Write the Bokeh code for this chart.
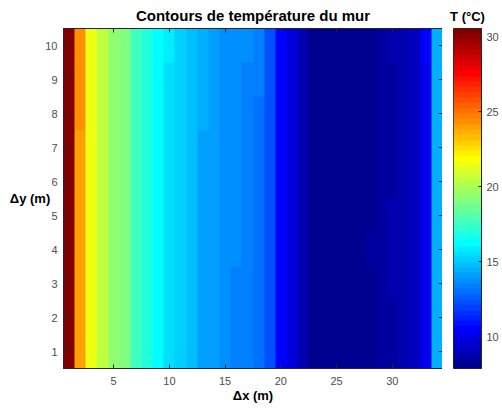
import numpy as np
from bokeh.plotting import figure
from bokeh.models import Range1d, LinearColorMapper, FixedTicker, LinearAxis
from bokeh.models import Axis
from bokeh.layouts import row
from bokeh.embed import file_html
from bokeh.resources import INLINE

# Grid cell centres (m)
x_cells = list(range(1, 35))
y_cells = list(range(1, 11))

# Wall temperature (°C), one list per row of cells, bottom (Δy = 1) to top (Δy = 10)
T_y1 = [30.56, 24.01, 21.52, 20.46, 19.40, 19.04, 17.63, 16.92, 16.21, 15.50, 15.15, 14.79, 14.08, 14.08, 13.73, 13.37, 13.37,
        13.02, 12.31, 10.54, 9.83, 8.77, 8.06, 8.00, 7.90, 7.92, 7.98, 8.10, 8.41, 8.41, 8.77, 9.12, 10.18, 14.44]
T_y2 = [30.56, 24.01, 21.52, 20.46, 19.40, 19.04, 17.63, 16.92, 16.21, 15.50, 15.15, 14.79, 14.08, 14.08, 13.73, 13.37, 13.37,
        13.02, 12.31, 10.54, 9.83, 8.77, 8.06, 8.00, 7.89, 7.92, 7.98, 8.10, 8.41, 8.41, 8.77, 9.12, 10.18, 14.44]
T_y3 = [30.56, 24.01, 21.52, 20.46, 19.40, 19.04, 17.63, 16.92, 16.21, 15.50, 15.15, 14.79, 14.08, 14.08, 13.73, 13.37, 13.37,
        13.02, 12.31, 10.54, 9.83, 8.77, 8.06, 8.00, 7.88, 7.92, 7.98, 8.10, 8.41, 8.77, 8.77, 9.12, 10.18, 14.44]
T_y4 = [30.56, 24.01, 21.52, 20.46, 19.40, 19.04, 17.63, 16.92, 16.21, 15.50, 15.15, 14.79, 14.08, 14.08, 13.73, 13.73, 13.37,
        13.02, 12.31, 10.54, 9.83, 8.77, 8.06, 8.00, 7.88, 7.92, 7.98, 8.41, 8.41, 8.77, 8.77, 9.12, 10.18, 14.44]
T_y5 = [30.56, 24.01, 21.52, 20.46, 19.40, 19.04, 17.63, 16.92, 16.21, 15.50, 15.15, 14.79, 14.08, 14.08, 13.73, 13.73, 13.37,
        13.02, 12.31, 10.54, 9.83, 8.77, 8.06, 8.00, 7.88, 7.92, 7.98, 8.10, 8.41, 8.77, 8.77, 9.12, 10.18, 14.44]
T_y6 = [30.56, 24.01, 21.52, 20.46, 19.40, 19.04, 17.63, 16.92, 16.21, 15.50, 15.15, 14.79, 14.08, 14.08, 13.73, 13.73, 13.37,
        13.02, 12.31, 10.54, 9.83, 8.77, 8.06, 8.00, 7.88, 7.92, 7.98, 8.10, 8.41, 8.41, 8.77, 9.12, 10.18, 14.44]
T_y7 = [30.56, 24.05, 21.52, 20.46, 19.40, 19.04, 17.63, 16.92, 16.21, 15.50, 15.15, 14.79, 14.08, 14.08, 13.73, 13.73, 13.37,
        13.02, 12.31, 10.54, 9.83, 8.77, 8.06, 8.00, 7.89, 7.92, 7.98, 8.10, 8.41, 8.41, 8.77, 9.12, 10.18, 14.44]
T_y8 = [30.56, 24.36, 21.52, 20.46, 19.40, 19.04, 17.63, 16.92, 16.21, 15.50, 15.15, 14.79, 14.44, 14.08, 13.73, 13.73, 13.37,
        13.02, 12.31, 10.54, 9.83, 8.77, 8.06, 8.00, 7.90, 7.92, 7.98, 8.10, 8.41, 8.41, 8.77, 9.12, 10.18, 14.44]
T_y9 = [30.56, 24.36, 21.52, 20.46, 19.40, 19.04, 17.63, 16.92, 16.21, 15.50, 15.15, 14.79, 14.44, 14.08, 13.73, 13.73, 13.37,
        13.37, 12.31, 10.54, 9.83, 8.77, 8.06, 8.00, 7.91, 7.93, 7.98, 8.10, 8.41, 8.41, 8.77, 9.12, 10.18, 14.44]
T_y10 = [30.56, 24.38, 21.52, 20.46, 19.40, 19.04, 17.63, 16.92, 16.21, 15.85, 15.15, 14.79, 14.44, 14.08, 13.73, 13.73, 13.73,
         13.37, 12.31, 10.54, 9.83, 8.77, 8.08, 8.02, 7.93, 7.95, 8.00, 8.12, 8.41, 8.77, 8.77, 9.12, 10.54, 14.44]

x_ticks = [5, 10, 15, 20, 25, 30]
y_ticks = list(range(1, 11))
cbar_ticks = [10, 15, 20, 25, 30]

FONT = "Liberation Sans"
INK = "#262626"
TICK_TEXT = "#4d4d4d"


def jet(n=64):
    """Classic 'jet' colormap with n levels."""
    m = n // 4
    u = np.concatenate([np.arange(1, m + 1) / m, np.ones(m - 1), np.arange(m, 0, -1) / m])
    idx = np.arange(1, len(u) + 1) + (n // 2 - (3 * m) // 2)
    rgb = np.zeros((n, 3))
    for ch, shift in ((0, m), (1, 0), (2, -m)):
        pos = idx + shift
        ok = (pos >= 1) & (pos <= n)
        rgb[pos[ok] - 1, ch] = u[ok]
    return ["#%02x%02x%02x" % tuple(int(round(c * 255)) for c in col) for col in rgb]


grid = np.array([T_y1, T_y2, T_y3, T_y4, T_y5, T_y6, T_y7, T_y8, T_y9, T_y10], dtype=float)
t_low, t_high = float(grid.min()), float(grid.max())
palette = jet(64)
mapper = LinearColorMapper(palette=palette, low=t_low, high=t_high)

x0, x1 = min(x_cells) - 0.5, max(x_cells) + 0.5
y0, y1 = min(y_cells) - 0.5, max(y_cells) + 0.5


def style_axis(ax, ticks, labels=True):
    ax.ticker = FixedTicker(ticks=ticks)
    ax.major_tick_in = 4
    ax.major_tick_out = 0
    ax.minor_tick_line_color = None
    ax.axis_line_color = INK
    ax.major_tick_line_color = INK
    ax.major_label_text_font = FONT
    ax.major_label_text_color = TICK_TEXT
    ax.major_label_text_font_size = "11px"
    if not labels:
        # mirrored tick marks only
        ax.major_label_overrides = {t: "" for t in ticks}
        ax.major_label_standoff = 0


def style_title(t, size):
    t.text_font = FONT
    t.text_font_size = size
    t.text_font_style = "bold"
    t.text_color = "black"
    t.align = "center"
    t.vertical_align = "bottom"
    t.standoff = 9


p = figure(frame_width=379, frame_height=340,
           x_range=Range1d(x0, x1), y_range=Range1d(y0, y1),
           min_border_left=63, min_border_right=0, min_border_top=28, min_border_bottom=41,
           output_backend="svg", toolbar_location=None,
           title="Contours de température du mur")
p.image(image=[grid], x=x0, y=y0, dw=x1 - x0, dh=y1 - y0, color_mapper=mapper)
p.grid.visible = False
p.outline_line_color = INK
p.background_fill_color = "white"
p.border_fill_color = "white"
style_title(p.title, "15px")

style_axis(p.xaxis[0], x_ticks)
style_axis(p.yaxis[0], y_ticks)
p.xaxis.major_label_standoff = 8
p.yaxis.major_label_standoff = 6
for ax, name in ((p.xaxis, "Δx (m)"), (p.yaxis, "Δy (m)")):
    ax.axis_label = name
    ax.axis_label_text_font = FONT
    ax.axis_label_text_font_size = "13px"
    ax.axis_label_text_font_style = "bold"
    ax.axis_label_text_color = "black"
p.xaxis.axis_label_standoff = 0
p.yaxis.axis_label_standoff = -8
if "axis_label_orientation" in Axis.properties():
    p.yaxis.axis_label_orientation = "horizontal"

top_axis = LinearAxis()
style_axis(top_axis, x_ticks, labels=False)
p.add_layout(top_axis, "above")
right_axis = LinearAxis()
style_axis(right_axis, y_ticks, labels=False)
p.add_layout(right_axis, "right")

# Colour scale
cb = figure(frame_width=28, frame_height=340,
            x_range=Range1d(0, 1), y_range=Range1d(t_low, t_high),
            min_border_left=11, min_border_right=20, min_border_top=28, min_border_bottom=41,
            y_axis_location="right", output_backend="svg", toolbar_location=None,
            title="T (°C)")
levels = t_low + (np.arange(len(palette)) + 0.5) * (t_high - t_low) / len(palette)
cb.image(image=[levels.reshape(-1, 1)], x=0, y=t_low, dw=1, dh=t_high - t_low, color_mapper=mapper)
cb.grid.visible = False
cb.xaxis.visible = False
cb.outline_line_color = INK
cb.border_fill_color = "white"
style_axis(cb.yaxis[0], cbar_ticks)
cb.yaxis.major_tick_in = 3
cb.yaxis.major_label_standoff = 5
style_title(cb.title, "13px")
cb.title.offset = -5

layout = row(p, cb)
open("out.html", "w").write(file_html(layout, INLINE))
